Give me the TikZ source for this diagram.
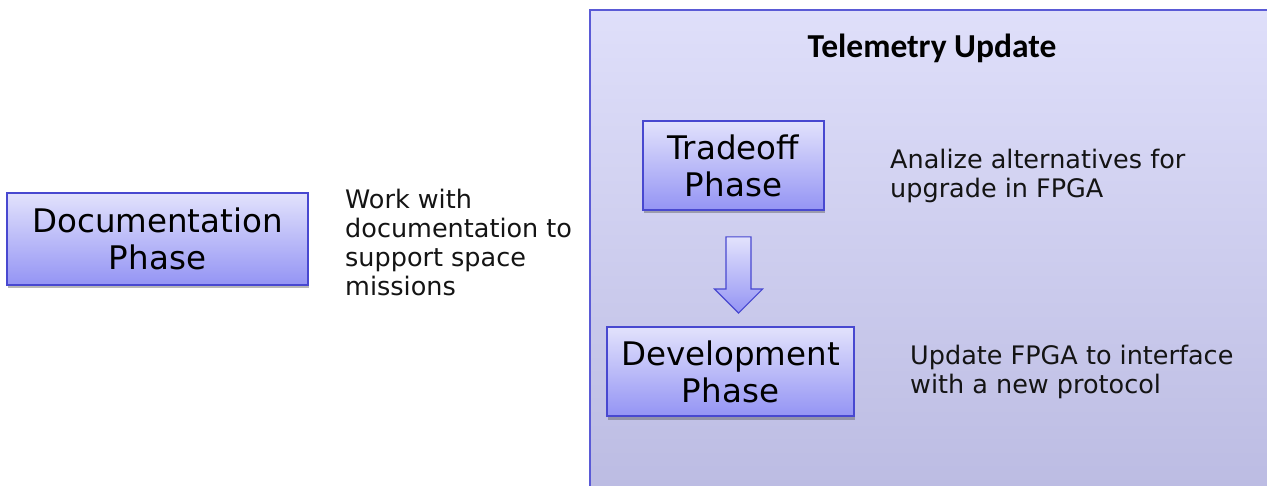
\documentclass[tikz,border=0pt]{standalone}
\usepackage{fontspec}
\setmainfont{DejaVu Sans}
\newfontfamily\titlefont{Carlito}
\usetikzlibrary{shadows,calc}
\definecolor{boxtop}{HTML}{E2E2FC}
\definecolor{boxbot}{HTML}{9494F4}
\definecolor{boxline}{HTML}{4848D0}
\definecolor{paneltop}{HTML}{DFDFFA}
\definecolor{panelbot}{HTML}{BBBBE2}
\definecolor{panelline}{HTML}{5A5AD6}
\tikzset{
  phasebox/.style={draw=boxline, line width=1.8pt, top color=boxtop, bottom color=boxbot,
    align=center, inner sep=0pt, font=\fontsize{32.5}{37}\selectfont,
    drop shadow={shadow xshift=1pt, shadow yshift=-3.5pt, opacity=0.4, fill=black!70}},
  note/.style={anchor=north west, align=left, inner sep=0pt,
    font=\fontsize{25.5}{29}\selectfont, text=black!92}
}
\begin{document}
\begin{tikzpicture}[x=1pt,y=-1pt]
\useasboundingbox (0,0) rectangle (1267,486);
\clip (0,0) rectangle (1267,486);
\fill[white] (0,0) rectangle (1267,486);

% telemetry panel
\shade[top color=paneltop, bottom color=panelbot, draw=panelline, line width=1.2pt]
  (590,10) rectangle (1290,500);
\node[font=\titlefont\bfseries\fontsize{33.5}{38}\selectfont] (title) at (932,48) {Telemetry Update};

% phases
\node[phasebox, minimum width=301pt, minimum height=92pt] (doc) at (157.5,239) {Documentation\\Phase};
\node[phasebox, minimum width=181pt, minimum height=89pt] (trade) at (733.5,165.5) {Tradeoff\\Phase};
\node[phasebox, minimum width=247pt, minimum height=89pt] (dev) at (730.5,371.5) {Development\\Phase};

% block arrow between the two telemetry phases
\coordinate (atop) at ($(trade.south)+(5,26)$);
\coordinate (abot) at ($(dev.north)+(8,-13)$);
\shade[top color=boxtop, bottom color=boxbot, draw=boxline, line width=1.2pt]
  ($(atop)+(-12.5,0)$) -- ($(atop)+(12.5,0)$) -- ($(abot)+(12.5,-24)$) -- ($(abot)+(24,-24)$)
  -- (abot) -- ($(abot)+(-24,-24)$) -- ($(abot)+(-12.5,-24)$) -- cycle;

% descriptions
\node[note] (docnote) at (345,189) {Work with\\documentation to\\support space\\missions};
\node[note] (tradenote) at (890,149) {Analize alternatives for\\upgrade in FPGA};
\node[note] (devnote) at (910,345) {Update FPGA to interface\\with a new protocol};
\end{tikzpicture}
\end{document}
